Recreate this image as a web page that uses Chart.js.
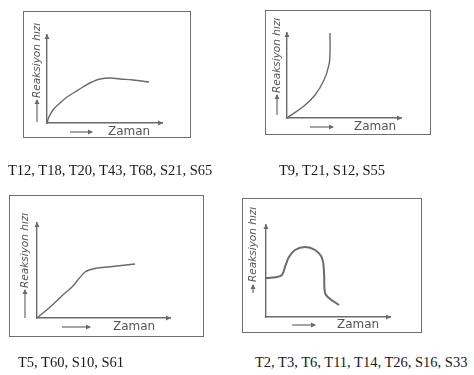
<!DOCTYPE html>
<html><head><meta charset="utf-8">
<script src="https://cdn.jsdelivr.net/npm/chart.js@4"></script>
<style>
html,body{margin:0;padding:0;background:#fff;width:474px;height:375px;overflow:hidden;position:relative}
.box{position:absolute;border:1.5px solid #707070;box-sizing:border-box;pointer-events:none}
canvas{position:absolute}
.cap{position:absolute;font-family:"Liberation Serif","Times New Roman",serif;font-size:14.5px;color:#1a1a1a;white-space:nowrap;line-height:1}
</style></head><body>
<script>
// ---- data ----
const yTitle = "Reaksiyon hızı";
const xTitle = "Zaman";
const captions = [
  "T12, T18, T20, T43, T68, S21, S65",
  "T9, T21, S12, S55",
  "T5, T60, S10, S61",
  "T2, T3, T6, T11, T14, T26, S16, S33"
];
const curve1X = [0, 1.7, 5.2, 11.3, 17.4, 24.3, 31.3, 39.1, 46.1, 54.8, 63.5, 74.8, 88.7];
const curve1Y = [0, 6.8, 14.8, 22.7, 29.5, 35.2, 40.9, 46.6, 50.0, 51.1, 50.0, 48.9, 46.6];
const curve2X = [0, 14.9, 24.6, 32.5, 36.8, 37.7, 37.7];
const curve2Y = [0, 14.1, 27.1, 44.7, 62.4, 76.5, 100];
const curve3X = [0, 9.8, 21.1, 26.3, 36.1, 45.1, 53.4, 73.7];
const curve3Y = [0, 11.6, 26.3, 32.6, 48.4, 52.6, 53.7, 56.8];
const curve4X = [0, 8.9, 12.9, 15.3, 18.5, 23.4, 31.5, 39.5, 45.2, 46.8, 47.6, 50.8, 58.9];
const curve4Y = [42.4, 43.5, 45.7, 54.3, 65.2, 72.8, 76.1, 72.8, 64.1, 47.8, 26.1, 20.7, 13.0];

// ---- layout (positions only) ----
const panels = [
  {xs: curve1X, ys: curve1Y, cap: captions[0], box:[23,11,168,127], pad:{left:24,top:24,right:29,bottom:15},
   yl:{dx:-10,a0:1,a1:23,t0:25}, xl:{dy:9,a0:23,a1:45,t0:61}, capPos:[8,163], tension:0.4, lw:1.4},
  {xs: curve2X, ys: curve2Y, cap: captions[1], box:[265,10,166,125], pad:{left:22,top:23,right:30,bottom:17},
   yl:{dx:-10,a0:3,a1:23,t0:25}, xl:{dy:9,a0:23,a1:46,t0:67}, capPos:[279,163], tension:0.4, lw:1.4},
  {xs: curve3X, ys: curve3Y, cap: captions[2], box:[9,195,195,142], pad:{left:28,top:28,right:34,bottom:19},
   yl:{dx:-12,a0:0,a1:28,t0:30}, xl:{dy:9,a0:25,a1:53,t0:76}, capPos:[18,355], tension:0.2, lw:1.4},
  {xs: curve4X, ys: curve4Y, cap: captions[3], box:[242,198,180,135], pad:{left:24,top:27,right:32,bottom:16},
   yl:{dx:-13,a0:24,a1:32,t0:35}, xl:{dy:8,a0:26,a1:49,t0:71}, capPos:[255,355], tension:0.4, lw:2}
];

const INK = '#6a6a6a';

const sketchPlugin = {
  id: 'sketch',
  afterDraw(chart, args, o) {
    const ctx = chart.ctx, a = chart.chartArea;
    ctx.save();
    ctx.strokeStyle = INK; ctx.fillStyle = INK; ctx.lineWidth = 1.2;
    const headUp = (x, y) => { ctx.beginPath(); ctx.moveTo(x-2.5, y+5); ctx.lineTo(x, y); ctx.lineTo(x+2.5, y+5); ctx.closePath(); ctx.fill(); };
    const headRight = (x, y) => { ctx.beginPath(); ctx.moveTo(x-5, y-2.5); ctx.lineTo(x, y); ctx.lineTo(x-5, y+2.5); ctx.closePath(); ctx.fill(); };
    headUp(a.left, a.top - 1);
    headRight(a.right + 1, a.bottom);
    // y label arrow + text
    const lx = a.left + o.yl.dx;
    ctx.beginPath(); ctx.moveTo(lx, a.bottom - o.yl.a0); ctx.lineTo(lx, a.bottom - o.yl.a1); ctx.stroke();
    headUp(lx, a.bottom - o.yl.a1 - 1);
    ctx.save();
    ctx.translate(lx, a.bottom - o.yl.t0);
    ctx.rotate(-Math.PI / 2);
    ctx.font = 'italic 10.5px "DejaVu Sans"';
    ctx.textAlign = 'left'; ctx.textBaseline = 'middle';
    ctx.fillStyle = '#555';
    ctx.fillText(yTitle, 0, 0);
    ctx.restore();
    // x label arrow + text
    const ly = a.bottom + o.xl.dy;
    ctx.beginPath(); ctx.moveTo(a.left + o.xl.a0, ly); ctx.lineTo(a.left + o.xl.a1, ly); ctx.stroke();
    headRight(a.left + o.xl.a1 + 1, ly);
    ctx.font = '12px "DejaVu Sans"';
    ctx.textAlign = 'left'; ctx.textBaseline = 'middle';
    ctx.fillStyle = '#555';
    ctx.fillText(xTitle, a.left + o.xl.t0, ly);
    ctx.restore();
  }
};

panels.forEach((p) => {
  const [bx, by, bw, bh] = p.box;
  const box = document.createElement('div');
  box.className = 'box';
  Object.assign(box.style, {left: bx+'px', top: by+'px', width: bw+'px', height: bh+'px'});
  const cv = document.createElement('canvas');
  cv.width = bw; cv.height = bh;
  Object.assign(cv.style, {left: bx+'px', top: by+'px', width: bw+'px', height: bh+'px'});
  document.body.appendChild(cv);
  document.body.appendChild(box);
  const cap = document.createElement('div');
  cap.className = 'cap';
  cap.textContent = p.cap;
  cap.style.left = p.capPos[0] + 'px'; cap.style.top = p.capPos[1] + 'px';
  document.body.appendChild(cap);

  new Chart(cv, {
    type: 'line',
    data: { datasets: [{
      data: p.xs.map((x, i) => ({x, y: p.ys[i]})),
      borderColor: INK, borderWidth: p.lw, pointRadius: 0,
      tension: p.tension, fill: false, clip: false
    }]},
    options: {
      responsive: false, animation: false, events: [],
      layout: { padding: p.pad },
      plugins: { legend: {display: false}, tooltip: {enabled: false}, sketch: {yl: p.yl, xl: p.xl} },
      scales: {
        x: { type: 'linear', min: 0, max: 100, ticks: {display: false},
             grid: {display: false, drawTicks: false}, border: {display: true, color: INK, width: 1.4} },
        y: { type: 'linear', min: 0, max: 100, ticks: {display: false},
             grid: {display: false, drawTicks: false}, border: {display: true, color: INK, width: 1.4} }
      }
    },
    plugins: [sketchPlugin]
  });
});
</script>
</body></html>
